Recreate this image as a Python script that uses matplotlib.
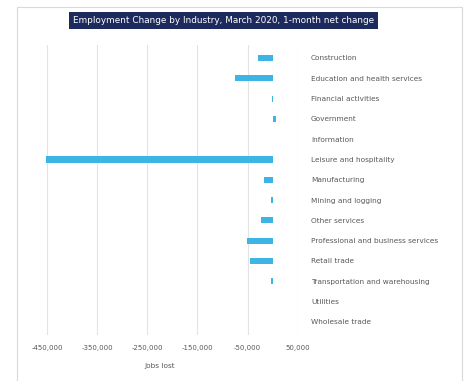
import matplotlib.pyplot as plt
from matplotlib.patches import Rectangle
from matplotlib.ticker import FuncFormatter

industries = ['Construction', 'Education and health services', 'Financial activities',
              'Government', 'Information', 'Leisure and hospitality', 'Manufacturing',
              'Mining and logging', 'Other services', 'Professional and business services',
              'Retail trade', 'Transportation and warehousing', 'Utilities', 'Wholesale trade']
net_change = [-29000, -76000, -1000, 6000, 0, -452000, -18000,
              -4000, -24000, -52000, -46000, -3000, 0, 0]
xticks = [-450000, -350000, -250000, -150000, -50000, 50000]

fig = plt.figure(figsize=(4.66, 3.81), dpi=100)
ax = fig.add_axes([0.047, 0.121, 0.592, 0.761])

pos = range(len(industries))
ax.barh(pos, net_change, height=0.3, color='#3cb4e6')
ax.set_xlim(-500000, 50000)
ax.set_ylim(len(industries) - 0.36, -0.64)
ax.set_xticks(xticks)
ax.xaxis.set_major_formatter(FuncFormatter(lambda v, p: f'{int(v):,}'))
ax.grid(axis='x', color='#e3e3e3', linewidth=0.8)
ax.set_axisbelow(True)
for s in ax.spines.values():
    s.set_visible(False)

ax.set_yticks(list(pos))
ax.set_yticklabels(industries)
ax.yaxis.tick_right()
ax.tick_params(axis='y', length=0, pad=9.5, labelsize=5.3, labelcolor='#595959')
ax.tick_params(axis='x', length=0, pad=7, labelsize=5, labelcolor='#595959')
ax.set_xlabel('Jobs lost', fontsize=5.3, color='#595959', labelpad=9)

fig.text(0.479, 0.947, 'Employment Change by Industry, March 2020, 1-month net change',
         ha='center', va='center', color='white', fontsize=6.4,
         bbox=dict(boxstyle='square,pad=0.45', facecolor='#1c2a5e', edgecolor='none'))

fig.patches.append(Rectangle((17 / 466, -0.01), 445 / 466, 1 - 7 / 381 + 0.01,
                             transform=fig.transFigure, fill=False,
                             edgecolor='#d9d9d9', linewidth=0.8))

fig.savefig('out.png', dpi=100)
